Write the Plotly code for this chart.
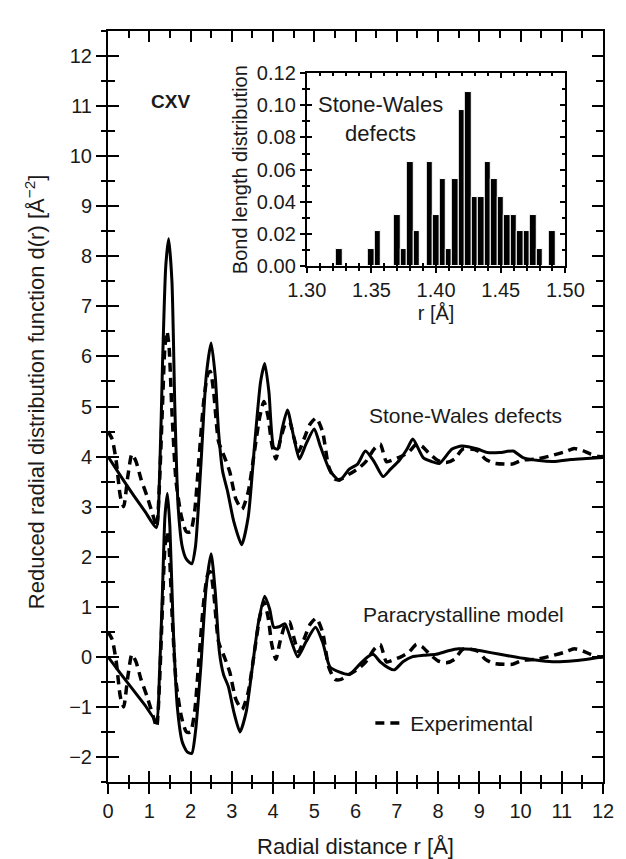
import plotly.graph_objects as go

# ---------------- data ----------------
# Stone-Wales defect model (solid, offset curve)
r_sw_model = [0.0, 0.3, 0.6, 0.9, 1.17, 1.25, 1.32, 1.40, 1.47, 1.55, 1.62, 1.70, 1.80, 1.90, 2.03,
              2.12, 2.25, 2.38, 2.50, 2.60, 2.68, 2.78, 2.90, 3.05, 3.24, 3.40, 3.55, 3.70, 3.80,
              3.90, 4.02, 4.12, 4.22, 4.35, 4.50, 4.64, 4.80, 5.00, 5.15, 5.38, 5.61, 5.85, 6.05,
              6.24, 6.45, 6.67, 6.85, 7.06, 7.25, 7.39, 7.64, 7.85, 8.03, 8.34, 8.58, 8.96, 9.20,
              9.50, 9.82, 10.06, 10.45, 10.80, 11.23, 11.60, 12.0]
d_sw_model = [4.0, 3.62, 3.25, 2.9, 2.58, 3.6, 5.8, 7.8, 8.35, 7.5, 5.0, 3.0, 2.2, 1.95, 1.86,
              2.2, 3.8, 5.6, 6.27, 5.6, 4.5, 3.7, 3.3, 2.7, 2.24, 2.8, 4.2, 5.5, 5.86,
              5.3, 4.18, 4.15, 4.55, 4.93, 4.4, 3.95, 4.25, 4.55, 4.2, 3.72, 3.52, 3.75, 3.85,
              4.11, 3.9, 3.6, 3.75, 3.92, 4.15, 4.35, 3.98, 3.9, 3.86, 4.15, 4.21, 4.15, 4.08,
              4.08, 4.11, 3.98, 3.92, 3.9, 3.94, 3.96, 3.98]

# Paracrystalline model (solid)
r_pc_model = [0.0, 0.3, 0.6, 0.9, 1.17, 1.25, 1.32, 1.38, 1.44, 1.50, 1.58, 1.68, 1.80, 1.92, 2.03,
              2.12, 2.25, 2.38, 2.50, 2.60, 2.70, 2.80, 2.92, 3.05, 3.20, 3.35, 3.50, 3.65, 3.80,
              3.92, 4.02, 4.15, 4.29, 4.45, 4.60, 4.80, 5.03, 5.20, 5.38, 5.60, 5.85, 6.10, 6.30,
              6.43, 6.60, 6.80, 6.94, 7.15, 7.37, 7.65, 7.95, 8.25, 8.50, 8.80, 9.04, 9.50, 10.06,
              10.50, 10.84, 11.30, 11.70, 12.0]
d_pc_model = [0.0, -0.33, -0.65, -0.97, -1.27, -0.3, 1.3, 2.8, 3.26, 2.6, 0.6, -1.0, -1.7, -1.9, -1.93,
              -1.5, -0.2, 1.4, 2.06, 1.3, 0.1, -0.35, -0.6, -1.1, -1.5, -1.1, -0.2, 0.7, 1.21,
              0.95, 0.59, 0.6, 0.66, 0.3, 0.0, 0.3, 0.59, 0.3, -0.2, -0.3, -0.35, -0.15, 0.0,
              0.05, -0.1, -0.22, -0.26, -0.1, 0.0, 0.03, 0.05, 0.12, 0.16, 0.15, 0.12, 0.05, -0.03,
              -0.08, -0.1, -0.08, -0.04, 0.0]

# Experimental d(r) (dashed); drawn under both models, shifted by 4 for the upper pair
r_exp = [0.0, 0.1, 0.2, 0.3, 0.38, 0.48, 0.58, 0.68, 0.80, 0.95, 1.10, 1.18, 1.25, 1.32, 1.38,
         1.43, 1.48, 1.55, 1.65, 1.78, 1.90, 2.00, 2.10, 2.20, 2.32, 2.42, 2.48, 2.56, 2.68,
         2.82, 2.95, 3.10, 3.25, 3.40, 3.55, 3.68, 3.78, 3.88, 3.97, 4.07, 4.17, 4.30, 4.40,
         4.50, 4.62, 4.75, 4.90, 5.05, 5.20, 5.35, 5.50, 5.65, 5.85, 6.05, 6.25, 6.45, 6.60,
         6.75, 6.95, 7.10, 7.30, 7.48, 7.62, 7.80, 8.00, 8.20, 8.40, 8.60, 8.95, 9.15, 9.35,
         9.60, 9.80, 10.05, 10.40, 10.80, 11.10, 11.30, 11.50, 11.70, 11.90, 12.0]
d_exp = [0.5, 0.35, -0.1, -0.8, -1.0, -0.4, 0.05, -0.1, -0.45, -0.8, -1.2, -1.4, -0.5, 1.0, 2.2,
         2.5, 2.2, 0.9, -0.5, -1.2, -1.5, -1.5, -1.1, -0.1, 1.1, 1.65, 1.7, 1.3, 0.3,
         0.0, -0.3, -0.85, -1.05, -0.7, 0.1, 0.8, 1.1, 0.8, 0.25, -0.05, 0.3, 0.65, 0.7,
         0.4, 0.1, 0.35, 0.65, 0.77, 0.5, -0.2, -0.45, -0.45, -0.35, -0.25, -0.1, 0.15, 0.25,
         -0.1, -0.05, 0.0, 0.1, 0.25, 0.2, 0.05, -0.08, -0.12, -0.05, 0.15, 0.12, -0.05, -0.13,
         -0.15, -0.15, -0.07, -0.05, 0.03, 0.1, 0.16, 0.12, 0.05, 0.0, 0.0]
sw_offset = 4.0

# Inset: bond length distribution (Stone-Wales defects)
bond_r = [1.325, 1.350, 1.355, 1.370, 1.375, 1.380, 1.385, 1.395, 1.400, 1.405, 1.410, 1.415,
          1.420, 1.425, 1.430, 1.435, 1.440, 1.445, 1.450, 1.455, 1.460, 1.465, 1.470, 1.475,
          1.480, 1.490]
bond_p = [0.011, 0.011, 0.022, 0.032, 0.011, 0.065, 0.022, 0.065, 0.032, 0.054, 0.011, 0.054,
          0.097, 0.108, 0.043, 0.043, 0.065, 0.054, 0.043, 0.032, 0.032, 0.022, 0.022, 0.032,
          0.011, 0.022]
bin_width = 0.005

x_ticks = list(range(0, 13))
y_ticks = list(range(-2, 13))
inset_x_ticks = [1.30, 1.35, 1.40, 1.45, 1.50]
inset_y_ticks = [0.00, 0.02, 0.04, 0.06, 0.08, 0.10, 0.12]

# ---------------- figure ----------------
FONT = "Arial, Liberation Sans, Helvetica, sans-serif"
TXT = "#1a1a1a"

fig = go.Figure()

line_solid = dict(color="black", width=3, shape="spline", smoothing=0.6)
line_dash = dict(color="black", width=3.5, dash="9px,6px", shape="spline", smoothing=0.6)

fig.add_trace(go.Scatter(x=r_exp, y=[v + sw_offset for v in d_exp], mode="lines",
                         line=line_dash, showlegend=False, hoverinfo="skip"))
fig.add_trace(go.Scatter(x=r_sw_model, y=d_sw_model, mode="lines", line=line_solid,
                         showlegend=False, hoverinfo="skip"))
fig.add_trace(go.Scatter(x=r_exp, y=d_exp, mode="lines", line=line_dash,
                         name="Experimental", showlegend=True, hoverinfo="skip"))
fig.add_trace(go.Scatter(x=r_pc_model, y=d_pc_model, mode="lines", line=line_solid,
                         showlegend=False, hoverinfo="skip"))

# helper (empty) traces for overlay tick axes
fig.add_trace(go.Scatter(x=[None], y=[None], xaxis="x3", yaxis="y3", showlegend=False,
                         hoverinfo="skip"))
fig.add_trace(go.Bar(x=bond_r, y=bond_p, width=bin_width, xaxis="x2", yaxis="y2",
                     marker=dict(color="black", line=dict(color="white", width=1)),
                     showlegend=False, hoverinfo="skip"))
fig.add_trace(go.Scatter(x=[None], y=[None], xaxis="x4", yaxis="y4", showlegend=False,
                         hoverinfo="skip"))

tickfont = dict(family=FONT, size=20, color=TXT)
XR = [0, 12]
YR = [-2.5, 12.5]
IXR = [1.30, 1.50]
IYR = [0.0, 0.12]
IX_DOM = [0.4016, 0.924]
IY_DOM = [0.6867, 0.944]

fig.update_layout(
    width=626, height=859,
    margin=dict(l=100, r=13, t=12, b=81),
    paper_bgcolor="white", plot_bgcolor="white",
    font=dict(family=FONT, size=20, color=TXT),
    bargap=0,
    xaxis=dict(range=XR, tickvals=x_ticks, showgrid=False, zeroline=False,
               showline=True, linecolor="black", linewidth=2, mirror=True,
               ticks="outside", ticklen=10, tickwidth=2, tickcolor="black",
               minor=dict(dtick=0.5, ticks="outside", ticklen=5, tickwidth=1.5, tickcolor="black"),
               tickfont=tickfont,
               title=dict(text="Radial distance r [Å]", font=dict(family=FONT, size=22, color=TXT),
                          standoff=18)),
    yaxis=dict(range=YR, tickvals=y_ticks, ticktext=[str(v).replace("-", "\u2212") for v in y_ticks],
               showgrid=False, zeroline=False,
               showline=True, linecolor="black", linewidth=2, mirror=True,
               ticks="outside", ticklen=10, tickwidth=2, tickcolor="black",
               minor=dict(dtick=0.5, ticks="outside", ticklen=5, tickwidth=1.5, tickcolor="black"),
               tickfont=tickfont),
    xaxis3=dict(overlaying="x", anchor="y", side="bottom", range=XR, tickvals=x_ticks,
                showticklabels=False, showgrid=False, zeroline=False, showline=False,
                ticks="inside", ticklen=11, tickwidth=2, tickcolor="black", mirror="allticks",
                minor=dict(dtick=0.5, ticks="inside", ticklen=7, tickwidth=1.5, tickcolor="black")),
    yaxis3=dict(overlaying="y", anchor="x", side="left", range=YR, tickvals=y_ticks,
                showticklabels=False, showgrid=False, zeroline=False, showline=False,
                ticks="inside", ticklen=11, tickwidth=2, tickcolor="black", mirror="allticks",
                minor=dict(dtick=0.5, ticks="inside", ticklen=7, tickwidth=1.5, tickcolor="black")),
    xaxis2=dict(domain=IX_DOM, anchor="y2", range=IXR, tickvals=inset_x_ticks,
                ticktext=[f"{v:.2f}" for v in inset_x_ticks],
                showgrid=False, zeroline=False, showline=True, linecolor="black", linewidth=2,
                mirror=True, ticks="outside", ticklen=5, tickwidth=2, tickcolor="black",
                minor=dict(dtick=0.01, ticks="outside", ticklen=3, tickwidth=1.5, tickcolor="black"),
                tickfont=tickfont,
                title=dict(text="r [Å]", font=dict(family=FONT, size=20, color=TXT), standoff=6)),
    yaxis2=dict(domain=IY_DOM, anchor="x2", range=IYR, tickvals=inset_y_ticks,
                ticktext=[f"{v:.2f}" for v in inset_y_ticks],
                showgrid=False, zeroline=False, showline=True, linecolor="black", linewidth=2,
                mirror=True, ticks="outside", ticklen=5, tickwidth=2, tickcolor="black",
                minor=dict(dtick=0.01, ticks="outside", ticklen=3, tickwidth=1.5, tickcolor="black"),
                tickfont=tickfont,
                title=dict(text="Bond length distribution", font=dict(family=FONT, size=20, color=TXT),
                           standoff=4)),
    xaxis4=dict(overlaying="x2", anchor="y2", side="bottom", range=IXR, tickvals=inset_x_ticks,
                showticklabels=False, showgrid=False, zeroline=False, showline=False,
                ticks="inside", ticklen=5, tickwidth=2, tickcolor="black", mirror="allticks",
                minor=dict(dtick=0.01, ticks="inside", ticklen=3, tickwidth=1.5, tickcolor="black")),
    yaxis4=dict(overlaying="y2", anchor="x2", side="left", range=IYR, tickvals=inset_y_ticks,
                showticklabels=False, showgrid=False, zeroline=False, showline=False,
                ticks="inside", ticklen=5, tickwidth=2, tickcolor="black", mirror="allticks",
                minor=dict(dtick=0.01, ticks="inside", ticklen=3, tickwidth=1.5, tickcolor="black")),
    legend=dict(x=0.53, y=0.078, xanchor="left", yanchor="middle",
                bgcolor="rgba(0,0,0,0)", font=dict(family=FONT, size=21, color=TXT)),
    annotations=[
        dict(x=-0.146, y=0.52, xref="paper", yref="paper", textangle=-90,
             xanchor="center", yanchor="middle",
             text="Reduced radial distribution function d(r) [Å<sup>\u22122</sup>]",
             showarrow=False, font=dict(family=FONT, size=22, color=TXT)),
        dict(x=1.52, y=11.1, xref="x", yref="y", text="<b>CXV</b>", showarrow=False,
             font=dict(family=FONT, size=19, color=TXT)),
        dict(x=8.66, y=4.82, xref="x", yref="y", text="Stone-Wales defects", showarrow=False,
             font=dict(family=FONT, size=21, color=TXT)),
        dict(x=8.63, y=0.84, xref="x", yref="y", text="Paracrystalline model", showarrow=False,
             font=dict(family=FONT, size=21, color=TXT)),
        dict(x=1.357, y=0.0917, xref="x2", yref="y2", text="Stone-Wales<br>defects", showarrow=False,
             font=dict(family=FONT, size=22, color=TXT)),
    ],
)

fig.write_html("out.html")
